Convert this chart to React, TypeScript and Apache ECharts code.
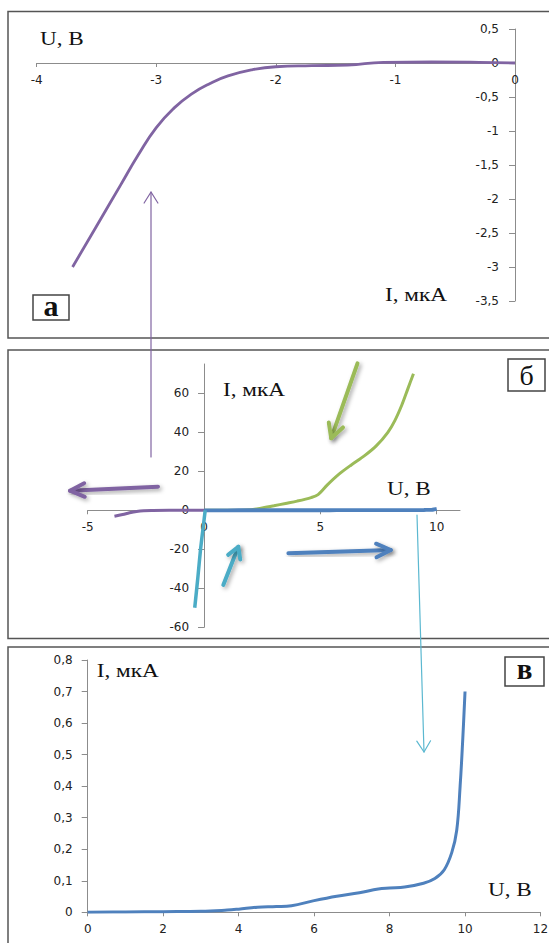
import React, { useEffect, useRef } from 'react';
import * as echarts from 'echarts';

// Panel а: I (мкА) on x, U (В) on y
const aCurrent = [-3.7, -3.5, -3.3, -3.15, -3.0, -2.85, -2.7, -2.55, -2.4, -2.2, -2.0, -1.7, -1.4, -1.1, -0.7, -0.3, 0];
const aVoltage = [-3.0, -2.4, -1.8, -1.35, -0.95, -0.66, -0.45, -0.3, -0.19, -0.1, -0.055, -0.04, -0.03, 0.01, 0.015, 0.01, 0];

// Panel б: U (В) on x, I (мкА) on y
const bPurpleU = [-3.85, -3.5, -3.2, -2.9, -2.6, -2.2, -1.5, 0];
const bPurpleI = [-3.1, -2.2, -1.3, -0.6, -0.2, -0.05, 0, 0];
const bGreenU = [0, 1, 2, 2.5, 3, 3.5, 4, 4.6, 4.9, 5.3, 5.8, 6.3, 6.9, 7.4, 7.9, 8.2, 8.5, 8.75, 9];
const bGreenI = [0, 0, 0.3, 1.2, 2.3, 3.5, 4.7, 6.5, 8, 13, 18.5, 23, 28, 33, 40, 46, 54, 62, 70];
const bCyanU = [0.05, -0.03, -0.15, -0.27, -0.4];
const bCyanI = [0, -8, -20, -35, -50];

// Panel в: U (В) on x, I (мкА) on y
const cU = [0, 1, 2, 3, 3.7, 4, 4.5, 5, 5.4, 6, 6.6, 7.2, 7.7, 8, 8.4, 8.9, 9.2, 9.45, 9.65, 9.78, 9.87, 9.94, 10];
const cI = [0, 0.001, 0.002, 0.003, 0.007, 0.01, 0.016, 0.018, 0.021, 0.037, 0.051, 0.062, 0.074, 0.077, 0.08, 0.092, 0.107, 0.135, 0.19, 0.26, 0.4, 0.55, 0.7];

// tick values
const aXTicks = [-4, -3, -2, -1, 0];
const aYTicks = [-3.5, -3, -2.5, -2, -1.5, -1, -0.5, 0, 0.5];
const bXTicks = [-5, 0, 5, 10];
const bYTicks = [-60, -40, -20, 0, 20, 40, 60];
const cXTicks = [0, 2, 4, 6, 8, 10, 12];
const cYTicks = [0, 0.1, 0.2, 0.3, 0.4, 0.5, 0.6, 0.7, 0.8];

const bXMax = 11;
const bYMax = 75;

const PURPLE = '#8064A2';
const BLUE = '#4F81BD';
const GREEN = '#9BBB59';
const CYAN = '#4BACC6';
const AXIS = '#8c8c8c';
const LABEL = '#222222';
const SERIF = '"Liberation Serif", "Times New Roman", serif';
const SANS = '"DejaVu Sans", Verdana, sans-serif';

const GRIDS = [
  { left: 36.7, top: 29, width: 478.3, height: 272 },
  { left: 87.7, top: 364, width: 372.3, height: 263.3 },
  { left: 87.7, top: 660, width: 452.8, height: 252.3 },
];

const zip = (xs: number[], ys: number[]) => xs.map((x, i) => [x, ys[i]]);
const fmt = (v: number) => String(Math.round(v * 100) / 100).replace('.', ',');

// offset (inward, negative) that puts an axis on the other axis' zero
function zeroOffset(min: number, max: number, size: number) {
  if (min >= 0) return 0;
  if (max <= 0) return -size;
  return -((0 - min) / (max - min)) * size;
}

function makeAxis(dim: 'x' | 'y', gridIndex: number, ticks: number[], min: number, max: number, interval: number, tickLen: number, margin: number, offset: number) {
  return {
    type: 'value',
    gridIndex,
    position: dim === 'x' ? 'bottom' : 'left',
    offset,
    min,
    max,
    interval,
    axisLine: { show: true, onZero: false, lineStyle: { color: AXIS, width: 1 } },
    axisTick: { show: true, length: tickLen, lineStyle: { color: AXIS }, customValues: ticks },
    axisLabel: {
      show: true,
      margin,
      fontSize: 12,
      fontFamily: SANS,
      color: LABEL,
      formatter: fmt,
      customValues: ticks,
    },
    splitLine: { show: false },
  };
}

function arrow(x1: number, y1: number, x2: number, y2: number, color: string, width: number, headLen: number, angleDeg: number, shadow: boolean) {
  const ang = Math.atan2(y2 - y1, x2 - x1);
  const a = (angleDeg * Math.PI) / 180;
  const w1 = [x2 - headLen * Math.cos(ang - a), y2 - headLen * Math.sin(ang - a)];
  const w2 = [x2 - headLen * Math.cos(ang + a), y2 - headLen * Math.sin(ang + a)];
  const style: any = { stroke: color, lineWidth: width, fill: null, lineCap: 'round', lineJoin: 'round' };
  if (shadow) {
    style.shadowBlur = 4;
    style.shadowColor = 'rgba(0,0,0,0.35)';
    style.shadowOffsetX = 2;
    style.shadowOffsetY = 2;
  }
  return [
    { type: 'polyline', z: 20, shape: { points: [[x1, y1], [x2, y2]] }, style },
    { type: 'polyline', z: 20, shape: { points: [w1, [x2, y2], w2] }, style },
  ];
}

function serifText(text: string, x: number, y: number, size: number, opts: any = {}) {
  return {
    type: 'text',
    z: 15,
    x,
    y,
    scaleX: opts.scaleX ?? 1,
    style: {
      text,
      x: 0,
      y: 0,
      fill: '#111',
      font: `${opts.bold ? 'bold ' : ''}${size}px ${SERIF}`,
      align: opts.align ?? 'left',
      verticalAlign: 'middle',
    },
  };
}

export default function App() {
  const ref = useRef<HTMLDivElement>(null);
  useEffect(() => {
    if (!ref.current) return;
    const chart = echarts.init(ref.current, null, { renderer: 'svg' });
    const aXMin = aXTicks[0], aXMax = aXTicks[aXTicks.length - 1];
    const aYMin = aYTicks[0], aYMax = aYTicks[aYTicks.length - 1];
    const bXMin = bXTicks[0], bYMin = bYTicks[0];
    const cXMin = cXTicks[0], cXMax = cXTicks[cXTicks.length - 1];
    const cYMin = cYTicks[0], cYMax = cYTicks[cYTicks.length - 1];
    const option: any = {
      animation: false,
      backgroundColor: '#ffffff',
      grid: GRIDS.map((g) => ({ ...g, outerBoundsMode: 'none', containLabel: false })),
      xAxis: [
        makeAxis('x', 0, aXTicks, aXMin, aXMax, 1, 4, 11, zeroOffset(aYMin, aYMax, GRIDS[0].height)),
        makeAxis('x', 1, bXTicks, bXMin, bXMax, 5, 4, 11, zeroOffset(bYMin, bYMax, GRIDS[1].height)),
        makeAxis('x', 2, cXTicks, cXMin, cXMax, 2, 4, 11, zeroOffset(cYMin, cYMax, GRIDS[2].height)),
      ],
      yAxis: [
        makeAxis('y', 0, aYTicks, aYMin, aYMax, 0.5, 6, 16, zeroOffset(aXMin, aXMax, GRIDS[0].width)),
        makeAxis('y', 1, bYTicks, bYMin, bYMax, 20, 6, 15, zeroOffset(bXMin, bXMax, GRIDS[1].width)),
        makeAxis('y', 2, cYTicks, cYMin, cYMax, 0.1, 6, 15, zeroOffset(cXMin, cXMax, GRIDS[2].width)),
      ],
      series: [
        {
          type: 'line', xAxisIndex: 0, yAxisIndex: 0, data: zip(aCurrent, aVoltage),
          smooth: 0.5, showSymbol: false, lineStyle: { color: PURPLE, width: 2.8 },
        },
        {
          type: 'line', xAxisIndex: 1, yAxisIndex: 1, data: zip(bGreenU, bGreenI),
          smooth: 0.3, showSymbol: false, lineStyle: { color: GREEN, width: 3 }, z: 2,
        },
        {
          type: 'line', xAxisIndex: 1, yAxisIndex: 1, data: zip(bPurpleU, bPurpleI),
          smooth: 0.4, showSymbol: false, lineStyle: { color: PURPLE, width: 3 }, z: 3,
        },
        {
          type: 'line', xAxisIndex: 1, yAxisIndex: 1, data: zip(cU, cI),
          smooth: 0.3, showSymbol: false, lineStyle: { color: BLUE, width: 3.8 }, z: 4,
        },
        {
          type: 'line', xAxisIndex: 1, yAxisIndex: 1, data: zip(bCyanU, bCyanI),
          smooth: 0.2, showSymbol: false, lineStyle: { color: CYAN, width: 3.5 }, z: 5,
        },
        {
          type: 'line', xAxisIndex: 2, yAxisIndex: 2, data: zip(cU, cI),
          smooth: 0.4, showSymbol: false, lineStyle: { color: BLUE, width: 3 },
        },
      ],
      graphic: {
        elements: [
          // panel frames
          { type: 'rect', z: 1, shape: { x: 8, y: 11.5, width: 560, height: 326.5 }, style: { fill: null, stroke: '#555', lineWidth: 1.5 } },
          { type: 'rect', z: 1, shape: { x: 8, y: 350, width: 560, height: 288.5 }, style: { fill: null, stroke: '#555', lineWidth: 1.5 } },
          { type: 'rect', z: 1, shape: { x: 8, y: 647, width: 560, height: 320 }, style: { fill: null, stroke: '#555', lineWidth: 1.5 } },
          // panel letter boxes
          { type: 'rect', z: 14, shape: { x: 33, y: 295, width: 36, height: 25 }, style: { fill: '#fff', stroke: '#444', lineWidth: 1.5 } },
          { type: 'rect', z: 14, shape: { x: 508, y: 359, width: 37, height: 32 }, style: { fill: '#fff', stroke: '#444', lineWidth: 1.5 } },
          { type: 'rect', z: 14, shape: { x: 505, y: 657, width: 39, height: 29 }, style: { fill: '#fff', stroke: '#444', lineWidth: 1.5 } },
          serifText('а', 51, 305.5, 30, { bold: true, align: 'center' }),
          serifText('б', 526.5, 375.5, 28, { align: 'center' }),
          serifText('в', 524.5, 668.5, 29, { bold: true, align: 'center' }),
          // axis titles
          serifText('U, В', 40, 38.5, 19, { scaleX: 1.22 }),
          serifText('I, мкА', 385, 294.5, 19, { scaleX: 1.22 }),
          serifText('I, мкА', 223, 390, 19, { scaleX: 1.22 }),
          serifText('U, В', 387, 488.5, 19, { scaleX: 1.22 }),
          serifText('I, мкА', 96.7, 671, 19, { scaleX: 1.22 }),
          serifText('U, В', 488, 889.5, 19, { scaleX: 1.22 }),
          // thin connecting arrows
          ...arrow(151, 457, 151, 192, PURPLE, 1.2, 13, 32, false),
          ...arrow(417, 515, 424, 752, '#5BB8D0', 1.2, 13, 32, false),
          // thick direction arrows in panel б
          ...arrow(158, 486.7, 70, 490.7, PURPLE, 4, 16, 25, true),
          ...arrow(357.5, 363.3, 331.2, 438.3, GREEN, 4, 16, 28, true),
          ...arrow(223.3, 585, 238.3, 546.7, CYAN, 4, 13, 30, true),
          ...arrow(288.4, 553.3, 390.8, 550, BLUE, 4, 16, 25, true),
        ],
      },
    };
    chart.setOption(option);
    return () => chart.dispose();
  }, []);
  return <div ref={ref} style={{ position: 'absolute', left: 0, top: 0, width: 549, height: 943 }} />;
}
